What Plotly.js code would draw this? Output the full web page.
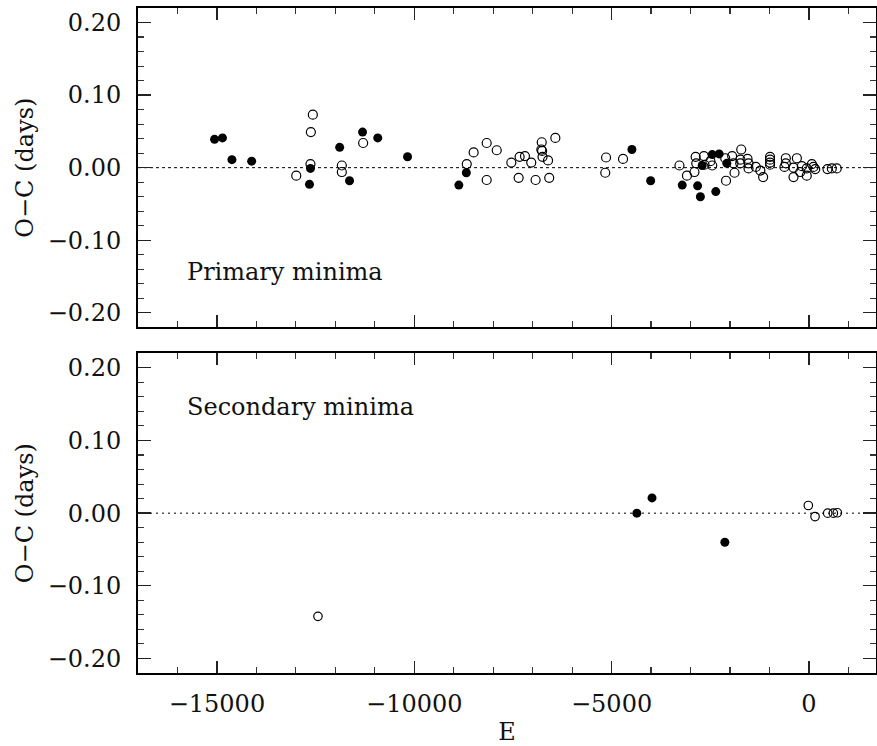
<!DOCTYPE html>
<html>
<head>
<meta charset="utf-8">
<script src="https://cdn.plot.ly/plotly-3.0.1.min.js"></script>
<style>html,body{margin:0;padding:0;background:#fff;}#chart{width:877px;height:746px;}</style>
</head>
<body>
<div id="chart"></div>
<script>
// Primary minima — filled symbols
const priFilledE  = [-15060,-14860,-14620,-14120,-12630,-12655,-11890,-11640,-11310,-10925,-10170,-8870,-8680,-4485,-4010,-3210,-2820,-2750,-2360,-2705,-2450,-2275,-2080];
const priFilledOC = [0.039,0.041,0.011,0.009,-0.001,-0.023,0.028,-0.018,0.049,0.041,0.015,-0.024,-0.007,0.025,-0.018,-0.024,-0.025,-0.040,-0.033,0.003,0.018,0.019,0.006];
// Primary minima — open symbols
const priOpenE  = [-12570,-12620,-12630,-12990,-11835,-11835,-11295,-8670,-8495,-8165,-8165,-7910,-7540,-7355,-7330,-7195,-7035,-6925,-6770,-6780,-6760,-6750,-6610,-6580,-6425,-5140,-5160,-4710,-3280,-3090,-2900,-2870,-2855,-2660,-2645,-2495,-2450,-2120,-2100,-1945,-1910,-1885,-1715,-1735,-1740,-1555,-1530,-1530,-1345,-1230,-1160,-985,-985,-985,-985,-585,-585,-620,-305,-390,-390,-180,-220,-55,-55,75,115,160,470,580,705];
const priOpenOC = [0.073,0.049,0.005,-0.011,0.003,-0.006,0.034,0.005,0.021,0.034,-0.017,0.024,0.007,-0.014,0.015,0.016,0.007,-0.017,0.035,0.025,0.023,0.015,0.010,-0.014,0.041,0.014,-0.007,0.012,0.003,-0.011,-0.006,0.015,0.006,0.016,0.004,0.009,0.003,0.013,-0.018,0.016,0.006,-0.007,0.025,0.011,0.006,0.012,0.006,-0.001,0.001,-0.004,-0.013,0.015,0.011,0.007,0.004,0.013,0.006,0.001,0.013,0.000,-0.013,0.002,-0.006,-0.011,-0.001,0.005,0.001,-0.002,-0.002,-0.001,-0.001];
// Secondary minima
const secFilledE  = [-4360,-3975,-2130];
const secFilledOC = [0.000,0.021,-0.040];
const secOpenE  = [-12440,-15,155,476,619,720];
const secOpenOC = [-0.142,0.0105,-0.0047,0.000,0.000,0.0005];

const yTicks = [-0.2,-0.1,0,0.1,0.2];
const xTicks = [-15000,-10000,-5000,0];
const labelTop = 'Primary minima';
const labelBottom = 'Secondary minima';
const yTitle = 'O\u2212C (days)';
const xTitle = 'E';

const FONT = 'DejaVu Serif';
const filledMarker = {symbol:'circle', size:9, color:'black'};
const openMarker = {symbol:'circle-open', size:9, color:'black', line:{width:1.2, color:'black'}};

const traces = [
  {x:priFilledE, y:priFilledOC, xaxis:'x', yaxis:'y', mode:'markers', type:'scatter', marker:filledMarker},
  {x:priOpenE, y:priOpenOC, xaxis:'x', yaxis:'y', mode:'markers', type:'scatter', marker:openMarker},
  {x:secFilledE, y:secFilledOC, xaxis:'x2', yaxis:'y2', mode:'markers', type:'scatter', marker:filledMarker},
  {x:secOpenE, y:secOpenOC, xaxis:'x2', yaxis:'y2', mode:'markers', type:'scatter', marker:Object.assign({}, openMarker, {size:8.5})}
];

function xax(domainAnchor, labels) {
  return {
    anchor: domainAnchor, domain:[0,1], range:[-17000,1700],
    tickmode:'array', tickvals:xTicks, tickformat:'d',
    showticklabels: labels, ticks:'inside', ticklen:12, tickwidth:1.3, tickcolor:'#222',
    minor:{dtick:1000, ticks:'inside', ticklen:6, tickwidth:1.1, tickcolor:'#333'},
    mirror:'allticks', showline:true, linewidth:2, linecolor:'black',
    showgrid:false, zeroline:false,
    tickfont:{family:FONT, size:24, color:'#111'}, ticklabelstandoff:8
  };
}
function yax(domain, anchor) {
  return {
    anchor: anchor, domain: domain, range:[-0.22,0.22],
    tickmode:'array', tickvals:yTicks, tickformat:'.2f',
    ticks:'inside', ticklen:13, tickwidth:1.3, tickcolor:'#222',
    minor:{dtick:0.02, ticks:'inside', ticklen:6, tickwidth:1.1, tickcolor:'#333'},
    mirror:'allticks', showline:true, linewidth:2, linecolor:'black',
    showgrid:false, zeroline:false,
    tickfont:{family:FONT, size:24, color:'#111'}, ticklabelstandoff:10,
    title:{text:yTitle, font:{family:FONT, size:24, color:'#111'}, standoff:7}
  };
}

const layout = {
  width:877, height:746,
  margin:{l:138, r:1, t:8, b:73},
  paper_bgcolor:'white', plot_bgcolor:'white',
  showlegend:false,
  xaxis: xax('y', false),
  yaxis: yax([0.5198,1], 'x'),
  xaxis2: Object.assign(xax('y2', true), {title:{text:xTitle, font:{family:FONT, size:24, color:'#111'}, standoff:6}}),
  yaxis2: yax([0,0.4808], 'x2'),
  shapes:[
    {type:'line', xref:'x domain', x0:0, x1:1, yref:'y', y0:0, y1:0, line:{color:'black', width:1, dash:'3px,3px'}, layer:'below'},
    {type:'line', xref:'x2 domain', x0:0, x1:1, yref:'y2', y0:0, y1:0, line:{color:'#555', width:1.5, dash:'2px,4px'}, layer:'below'}
  ],
  annotations:[
    {xref:'x', yref:'y', x:-15800, y:-0.144, xanchor:'left', yanchor:'middle', text:labelTop, showarrow:false, font:{family:FONT, size:24, color:'#111'}},
    {xref:'x2', yref:'y2', x:-15800, y:0.146, xanchor:'left', yanchor:'middle', text:labelBottom, showarrow:false, font:{family:FONT, size:24, color:'#111'}}
  ]
};

Plotly.newPlot('chart', traces, layout, {staticPlot:true, displayModeBar:false});
</script>
</body>
</html>
